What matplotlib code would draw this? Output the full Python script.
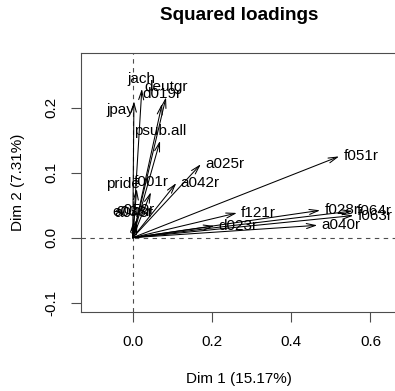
import matplotlib.pyplot as plt

# squared loadings (dim 1, dim 2)
names = ["jach", "deutgr", "d019r", "jpay", "psub.all", "pride", "f001r",
         "e038r", "c050r", "a048r",
         "f051r", "a025r", "a042r", "f121r", "d023r", "a040r",
         "f028r", "f064r", "f063r"]
dim1 = [0.023, 0.084, 0.074, 0.003, 0.069, 0.010, 0.046,
        0.002, 0.008, 0.012,
        0.521, 0.172, 0.110, 0.263, 0.206, 0.466,
        0.473, 0.555, 0.557]
dim2 = [0.229, 0.216, 0.206, 0.210, 0.149, 0.075, 0.070,
        0.025, 0.027, 0.022,
        0.125, 0.113, 0.084, 0.038, 0.018, 0.019,
        0.042, 0.041, 0.034]

# a few labels sit off the usual place (pixels)
nudge = {"jpay": (-14, -19), "pride": (-14, -5), "e038r": (-2, 0),
         "a048r": (-4, 1)}

plt.rcParams['font.family'] = ['Liberation Sans', 'DejaVu Sans']
fs = 11

fig = plt.figure(figsize=(3.95, 3.91), dpi=100)
ax = fig.add_axes([81 / 395, 78.7 / 391, 316 / 395, 259.3 / 391])

ax.axvline(0, ls=(0, (4, 4)), color='0.3', lw=0.8)
ax.axhline(0, ls=(0, (4, 4)), color='0.3', lw=0.8)

for n, x, y in zip(names, dim1, dim2):
    ax.annotate("", xy=(x, y), xytext=(0, 0),
                arrowprops=dict(arrowstyle='->,head_length=0.65,head_width=0.18',
                                color='black', lw=0.75, shrinkA=0, shrinkB=0))
    dx, dy = nudge.get(n, (0, 0))
    if x > y:
        ax.annotate(n, (x, y), xytext=(3 + dx * 0.72, dy * 0.72),
                    textcoords='offset points', ha='left', va='center',
                    fontsize=fs)
    else:
        ax.annotate(n, (x, y), xytext=(dx * 0.72, 2 + dy * 0.72),
                    textcoords='offset points', ha='center', va='bottom',
                    fontsize=fs)

ax.set_xlim(-0.1306, 0.667)
ax.set_ylim(-0.1148, 0.284)
ax.set_xticks([0.0, 0.2, 0.4, 0.6])
ax.set_yticks([-0.1, 0.0, 0.1, 0.2])
ax.set_xticklabels(["0.0", "0.2", "0.4", "0.6"])
ax.set_yticklabels(["-0.1", "0.0", "0.1", "0.2"], rotation=90, va='center')
ax.tick_params(length=7, width=0.8, color='0.3', labelsize=fs, pad=9)
for s in ax.spines.values():
    s.set_color('0.3')
    s.set_linewidth(0.8)

ax.set_xlabel("Dim 1 (15.17%)", fontsize=fs, labelpad=17)
ax.set_ylabel("Dim 2 (7.31%)", fontsize=fs, labelpad=14)
fig.text(239 / 395, 1 - 15 / 391, "Squared loadings", ha='center', va='center',
         fontsize=13.6, fontweight='bold')

fig.savefig("out.png", dpi=100)
